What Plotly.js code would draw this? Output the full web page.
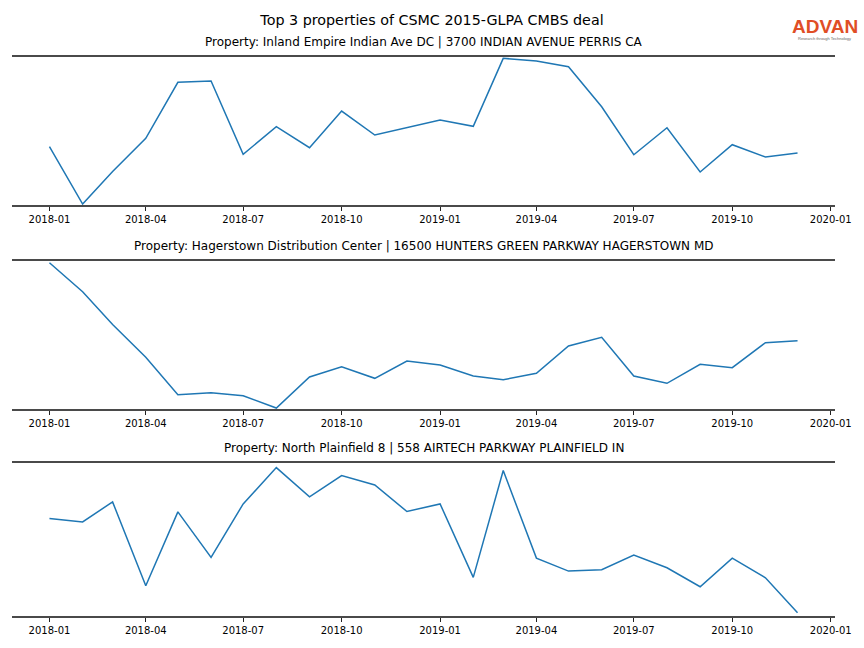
<!DOCTYPE html>
<html>
<head>
<meta charset="utf-8">
<script src="https://cdn.plot.ly/plotly-3.0.1.min.js"></script>
<style>html,body{margin:0;padding:0;background:#fff;}#chart{width:864px;height:648px;}</style>
</head>
<body>
<div id="chart"></div>
<script>
const months = ["2018-01-01","2018-02-01","2018-03-01","2018-04-01","2018-05-01","2018-06-01",
  "2018-07-01","2018-08-01","2018-09-01","2018-10-01","2018-11-01","2018-12-01",
  "2019-01-01","2019-02-01","2019-03-01","2019-04-01","2019-05-01","2019-06-01",
  "2019-07-01","2019-08-01","2019-09-01","2019-10-01","2019-11-01","2019-12-01"];

const titles = [
  "Property: Inland Empire Indian Ave DC | 3700 INDIAN AVENUE PERRIS CA",
  "Property: Hagerstown Distribution Center | 16500 HUNTERS GREEN PARKWAY HAGERSTOWN MD",
  "Property: North Plainfield 8 | 558 AIRTECH PARKWAY PLAINFIELD IN"
];

const inlandEmpire = [58.3, 1, 33.5, 66.7, 122.7, 124, 50.7, 78.3, 57.3, 94, 70, 77.5,
  85, 78.7, 146.7, 144, 138.3, 98.3, 50.3, 77.3, 33, 60.3, 48, 52];
const hagerstown = [146.3, 117.3, 84.5, 51.7, 14.3, 16.3, 13.3, 1, 32, 42.3, 30.7, 48,
  44, 33, 29.3, 35.7, 63, 71.7, 33, 25.7, 44.7, 41.3, 66.3, 68.3];
const northPlainfield = [97.7, 94.3, 114.3, 30.3, 104.3, 58.7, 112.3, 148.7, 119.3, 140.7, 131.3, 104.7,
  112.3, 38.7, 145.7, 58, 45, 46.3, 61, 48.3, 29.3, 58, 38.3, 3.3];

const series = [inlandEmpire, hagerstown, northPlainfield];
const yRanges = [[0, 148], [0, 148], [0, 153.3]];
const yDomains = [[0.6836, 0.9120], [0.3688, 0.5972], [0.0494, 0.2855]];
const xDomain = [12/864, 835/864];

const traces = series.map((s, i) => ({
  type: "scatter", mode: "lines", x: months, y: s,
  xaxis: i === 0 ? "x" : "x" + (i + 1),
  yaxis: i === 0 ? "y" : "y" + (i + 1),
  line: {color: "#1f77b4", width: 1.5},
  hoverinfo: "x+y", showlegend: false
}));

const layout = {
  width: 864, height: 648,
  margin: {l: 0, r: 0, t: 0, b: 0},
  paper_bgcolor: "#fff", plot_bgcolor: "#fff",
  font: {family: "DejaVu Sans", color: "#000"},
  title: {text: "Top 3 properties of CSMC 2015-GLPA CMBS deal", x: 0.5, xanchor: "center",
          y: 1 - 20/648, yanchor: "middle", font: {size: 14.3, family: "DejaVu Sans", color: "#000"}},
  annotations: [],
  showlegend: false
};

for (let i = 0; i < 3; i++) {
  const sfx = i === 0 ? "" : String(i + 1);
  layout["xaxis" + sfx] = {
    domain: xDomain, anchor: "y" + sfx, type: "date",
    range: ["2017-11-27", "2020-01-05"],
    tick0: "2018-01-01", dtick: "M3", tickformat: "%Y-%m",
    ticks: "outside", ticklen: 4, tickwidth: 1, tickcolor: "#222",
    tickfont: {size: 10, family: "DejaVu Sans", color: "#000"},
    showline: true, mirror: true, linecolor: "#4a4a4a", linewidth: 2,
    showgrid: false, zeroline: false
  };
  layout["yaxis" + sfx] = {
    domain: yDomains[i], anchor: "x" + sfx, range: yRanges[i],
    showticklabels: false, ticks: "", showgrid: false, zeroline: false, showline: false
  };
  layout.annotations.push({
    text: titles[i], xref: "paper", yref: "paper",
    x: 0.5 * (xDomain[0] + xDomain[1]), y: yDomains[i][1] + 15/648,
    xanchor: "center", yanchor: "middle", showarrow: false,
    font: {size: 12, family: "DejaVu Sans", color: "#000"}
  });
}

layout.annotations.push({
  text: "ADVAN", xref: "paper", yref: "paper", x: 824.5/864, y: 1 - 27/648,
  xanchor: "center", yanchor: "middle", showarrow: false,
  font: {size: 19, family: "Liberation Sans", color: "#e04e26", weight: 600}
});
layout.annotations.push({
  text: "Research through Technology", xref: "paper", yref: "paper", x: 824/864, y: 1 - 38/648,
  xanchor: "center", yanchor: "middle", showarrow: false,
  font: {size: 4, family: "Liberation Sans", color: "#666"}
});

Plotly.newPlot("chart", traces, layout, {displayModeBar: false, staticPlot: true});
</script>
</body>
</html>
